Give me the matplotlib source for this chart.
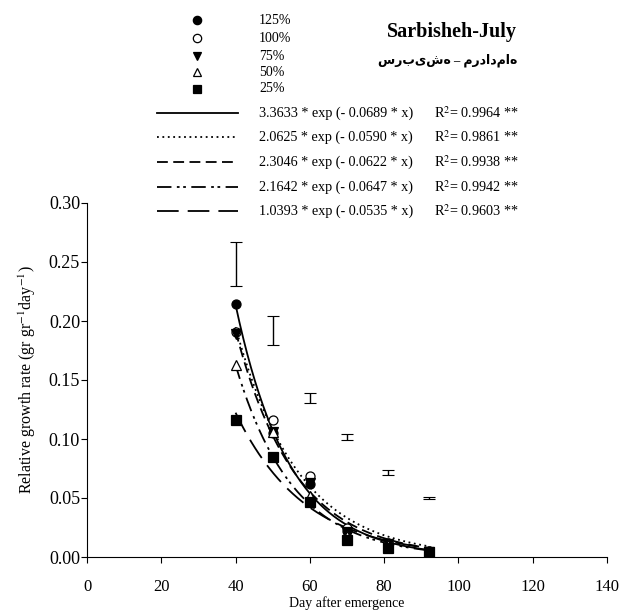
import matplotlib
matplotlib.use("Agg")
import matplotlib.pyplot as plt
from matplotlib.lines import Line2D
import numpy as np

plt.rcParams["font.family"] = ["Liberation Serif", "DejaVu Sans"]
plt.rcParams["mathtext.fontset"] = "stix"

# data
days = [40, 50, 60, 70, 81, 92]
treatments = ["125%", "100%", "75%", "50%", "25%"]
rgr_125 = [0.214, 0.105, 0.062, 0.022, 0.012, 0.005]
rgr_100 = [0.191, 0.116, 0.069, 0.025, 0.012, 0.005]
rgr_75 = [0.189, 0.106, 0.063, 0.021, 0.011, 0.004]
rgr_50 = [0.163, 0.106, 0.052, 0.018, 0.010, 0.004]
rgr_25 = [0.116, 0.085, 0.047, 0.014, 0.008, 0.004]

fit_a = [3.3633, 2.0625, 2.3046, 2.1642, 1.0393]
fit_b = [0.0689, 0.0590, 0.0622, 0.0647, 0.0535]
fit_r2 = ["0.9964", "0.9861", "0.9938", "0.9942", "0.9603"]

# LSD bars
lsd_center = [0.2485, 0.192, 0.1345, 0.1016, 0.0715, 0.050]
lsd_half = [0.0185, 0.0125, 0.0043, 0.0026, 0.0021, 0.0010]

series = [rgr_125, rgr_100, rgr_75, rgr_50, rgr_25]
markers = [("o", "black"), ("o", "white"), ("v", "black"), ("^", "white"), ("s", "black")]
styles = ["-", (0, (1, 2)), (0, (6, 3)), (0, (8, 3, 1.5, 2, 1.5, 3)), (0, (12, 5))]

W, H = 620, 616
fig = plt.figure(figsize=(W / 100, H / 100), dpi=100)
ax = fig.add_axes([87 / W, 1 - 557 / H, 520 / W, 354 / H])

xs = np.linspace(days[0], days[-1], 200)
for a, b, ls in zip(fit_a, fit_b, styles):
    ax.plot(xs, a * np.exp(-b * xs), color="black", lw=1.3, linestyle=ls, zorder=2)

for ys, (m, fc) in zip(series, markers):
    ax.plot(days, ys, linestyle="none", marker=m, markersize=6.5,
            markerfacecolor=fc, markeredgecolor="black", markeredgewidth=0.9, zorder=3)

ax.errorbar(days, lsd_center, yerr=lsd_half, fmt="none", ecolor="black",
            elinewidth=1.0, capsize=4, capthick=0.8)

ax.set_xlim(0, 140)
ax.set_ylim(0, 0.30)
ax.set_xticks(range(0, 141, 20))
ax.set_yticks(np.arange(0, 0.301, 0.05))
ax.yaxis.set_major_formatter(plt.FormatStrFormatter("%.2f"))
ax.spines["top"].set_visible(False)
ax.spines["right"].set_visible(False)
ax.tick_params(direction="out", length=4, labelsize=12)
ax.tick_params(axis="x", pad=12)
ax.tick_params(axis="y", pad=1, labelsize=13)
ax.set_ylabel("Relative growth rate (gr gr$^{-1}$day$^{-1}$)", fontsize=11.5, labelpad=8)


def fx(px):
    return px / W


def fy(py):
    return 1 - py / H


fig.text(fx(347), fy(603), "Day after emergence", fontsize=10, ha="center", va="center")

# marker legend
marker_rows = [20, 38, 56, 72, 89]
for py, (m, fc), name in zip(marker_rows, markers, treatments):
    fig.add_artist(Line2D([fx(197)], [fy(py)], marker=m, markersize=6,
                          markerfacecolor=fc, markeredgecolor="black",
                          markeredgewidth=0.9, linestyle="none"))
    fig.text(fx(259), fy(py), name, fontsize=10, va="center")

# fitted-curve legend
line_rows = [113, 137, 162, 187, 211]
for py, ls, a, b, r2 in zip(line_rows, styles, fit_a, fit_b, fit_r2):
    fig.add_artist(Line2D([fx(157), fx(238)], [fy(py), fy(py)], color="black",
                          lw=1.3, linestyle=ls))
    fig.text(fx(259), fy(py), f"{a:.4f} * exp (- {b:.4f} * x)", fontsize=10.2, va="center")
    fig.text(fx(434), fy(py), f"R$^2$= {r2} **", fontsize=10.2, va="center")

fig.text(fx(452), fy(32), "Sarbisheh-July", fontsize=14.5, fontweight="bold",
         ha="center", va="center")
fig.text(fx(517), fy(60), "سربیشه – مردادماه", fontsize=9, fontweight="bold",
         ha="right", va="center")

fig.savefig("out.png", dpi=100)
